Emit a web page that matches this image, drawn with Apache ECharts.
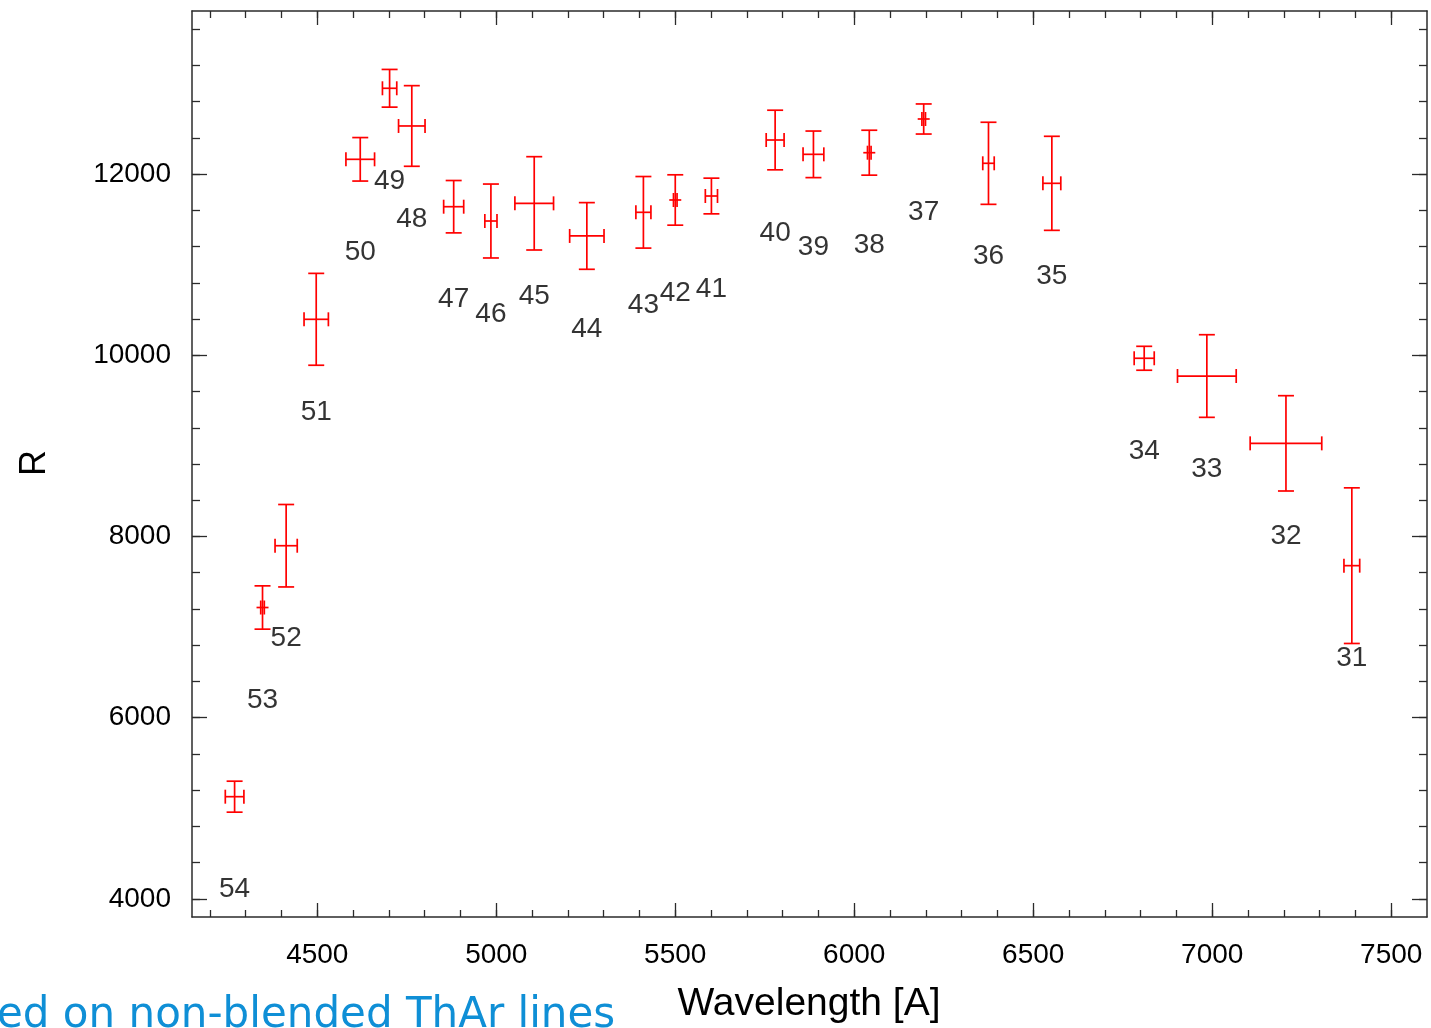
<!DOCTYPE html>
<html>
<head>
<meta charset="utf-8">
<title>Resolving power vs wavelength</title>
<script src="https://cdn.jsdelivr.net/npm/echarts@6/dist/echarts.min.js"></script>
<style>
  html, body { margin: 0; padding: 0; background: #ffffff; }
  #chart { width: 1431px; height: 1028px; }
</style>
</head>
<body>
<div id="chart"></div>
<script>
// Echelle order numbers
const orders = [54, 53, 52, 51, 50, 49, 48, 47, 46, 45, 44, 43, 42, 41, 40, 39, 38, 37, 36, 35, 34, 33, 32, 31];
// Central wavelength of each order [A]
const wavelength = [4269, 4347, 4413, 4497, 4620, 4702, 4764, 4881, 4985, 5106, 5253, 5411,
                    5500, 5601, 5779, 5886, 6042, 6194, 6375, 6552, 6810, 6985, 7206, 7390];
// Wavelength half-range (horizontal error) [A]
const wavelengthErr = [26, 5, 31, 34, 40, 20, 37, 28, 17, 54, 48, 21,
                       5, 17, 25, 29, 5, 5, 16, 25, 28, 82, 100, 22];
// Resolving power R
const resolution = [5128, 7216, 7898, 10397, 12163, 12947, 12531, 11640, 11482, 11677, 11317, 11578,
                    11714, 11758, 12376, 12218, 12236, 12608, 12119, 11898, 9967, 9771, 9028, 7678];
// Scatter of R (vertical error)
const resolutionErr = [171, 239, 455, 507, 240, 208, 445, 289, 408, 515, 368, 395,
                       278, 197, 329, 257, 248, 166, 453, 519, 132, 456, 526, 859];

// Axis ranges and tick values
const xRange = [4150, 7600];
const yRange = [3800, 13800];
const xMajorTicks = [4500, 5000, 5500, 6000, 6500, 7000, 7500];
const xMinorTicks = [];
for (let v = 4200; v <= 7500; v += 100) xMinorTicks.push(v);
const yMajorTicks = [4000, 6000, 8000, 10000, 12000];
const yMinorTicks = [];
for (let v = 4000; v <= 13600; v += 400) yMinorTicks.push(v);

const FONT = 'Liberation Sans, Arial, Helvetica, sans-serif';
const FRAME = '#2b2b2b';
const RED = '#ff0000';
const INK = '#000000';

function makeAxis(dim, position, ticks, len, showLine, labels, margin) {
  const isX = dim === 'x';
  return {
    type: 'value',
    position: position,
    min: isX ? xRange[0] : yRange[0],
    max: isX ? xRange[1] : yRange[1],
    axisLine: { show: showLine, onZero: false, lineStyle: { color: FRAME, width: 1.5 } },
    axisTick: {
      show: true, inside: true, length: len,
      customValues: ticks,
      lineStyle: { color: FRAME, width: 1.3 }
    },
    axisLabel: labels ? {
      show: true,
      customValues: labels,
      formatter: v => String(v),
      margin: margin,
      color: INK,
      fontSize: 28,
      fontFamily: FONT
    } : { show: false },
    splitLine: { show: false },
    minorTick: { show: false },
    minorSplitLine: { show: false }
  };
}

const chart = echarts.init(document.getElementById('chart'), null, { renderer: 'canvas' });

const errData = wavelength.map((w, i) => [w, resolution[i], wavelengthErr[i], resolutionErr[i]]);
const pointData = wavelength.map((w, i) => [w, resolution[i]]);

chart.setOption({
  animation: false,
  backgroundColor: '#ffffff',
  grid: { left: 192, top: 11, right: 4, bottom: 111, containLabel: false, show: false },
  xAxis: [
    makeAxis('x', 'bottom', xMajorTicks, 14, true, xMajorTicks, 24),
    makeAxis('x', 'bottom', xMinorTicks, 7, false, null),
    makeAxis('x', 'top', xMajorTicks, 14, true, null),
    makeAxis('x', 'top', xMinorTicks, 7, false, null)
  ],
  yAxis: [
    makeAxis('y', 'left', yMajorTicks, 15, true, yMajorTicks, 21),
    makeAxis('y', 'left', yMinorTicks, 8, false, null),
    makeAxis('y', 'right', yMajorTicks, 15, true, null),
    makeAxis('y', 'right', yMinorTicks, 8, false, null)
  ],
  graphic: [
    {
      type: 'text', x: 809, y: 1004,
      style: {
        text: 'Wavelength [A]', fontSize: 39, fontFamily: FONT, fill: INK,
        align: 'center', verticalAlign: 'middle'
      }
    },
    {
      type: 'text', x: 35, y: 463, rotation: Math.PI / 2,
      style: {
        text: 'R', fontSize: 36, fontFamily: FONT, fill: INK,
        align: 'center', verticalAlign: 'middle'
      }
    },
    {
      type: 'text', x: -3, y: 1016,
      style: {
        text: 'ed on non-blended ThAr lines', fontSize: 42,
        fontFamily: 'DejaVu Sans, sans-serif', fill: '#0f8fd6',
        align: 'left', verticalAlign: 'middle'
      }
    }
  ],
  series: [
    {
      type: 'custom',
      xAxisIndex: 0, yAxisIndex: 0,
      data: errData,
      clip: false,
      renderItem: function (params, api) {
        const x = api.value(0), y = api.value(1), dx = api.value(2), dy = api.value(3);
        const c = api.coord([x, y]);
        const l = api.coord([x - dx, y]);
        const r = api.coord([x + dx, y]);
        const t = api.coord([x, y + dy]);
        const b = api.coord([x, y - dy]);
        const capY = 8, capX = 7, mid = 6;
        const st = { stroke: RED, lineWidth: 1.7, fill: null };
        const seg = (x1, y1, x2, y2) => ({ type: 'line', shape: { x1, y1, x2, y2 }, style: st });
        const hl = Math.min(l[0], c[0] - mid), hr = Math.max(r[0], c[0] + mid);
        return {
          type: 'group',
          children: [
            seg(c[0], t[1], c[0], b[1]),
            seg(c[0] - capY, t[1], c[0] + capY, t[1]),
            seg(c[0] - capY, b[1], c[0] + capY, b[1]),
            seg(hl, c[1], hr, c[1]),
            seg(l[0], c[1] - capX, l[0], c[1] + capX),
            seg(r[0], c[1] - capX, r[0], c[1] + capX)
          ]
        };
      }
    },
    {
      type: 'scatter',
      xAxisIndex: 0, yAxisIndex: 0,
      data: pointData,
      symbolSize: 1,
      itemStyle: { color: 'rgba(0,0,0,0)' },
      label: {
        show: true,
        position: 'inside',
        offset: [0, 93],
        formatter: p => String(orders[p.dataIndex]),
        fontSize: 28,
        fontFamily: FONT,
        color: INK
      },
      silent: true
    }
  ]
});
</script>
</body>
</html>
